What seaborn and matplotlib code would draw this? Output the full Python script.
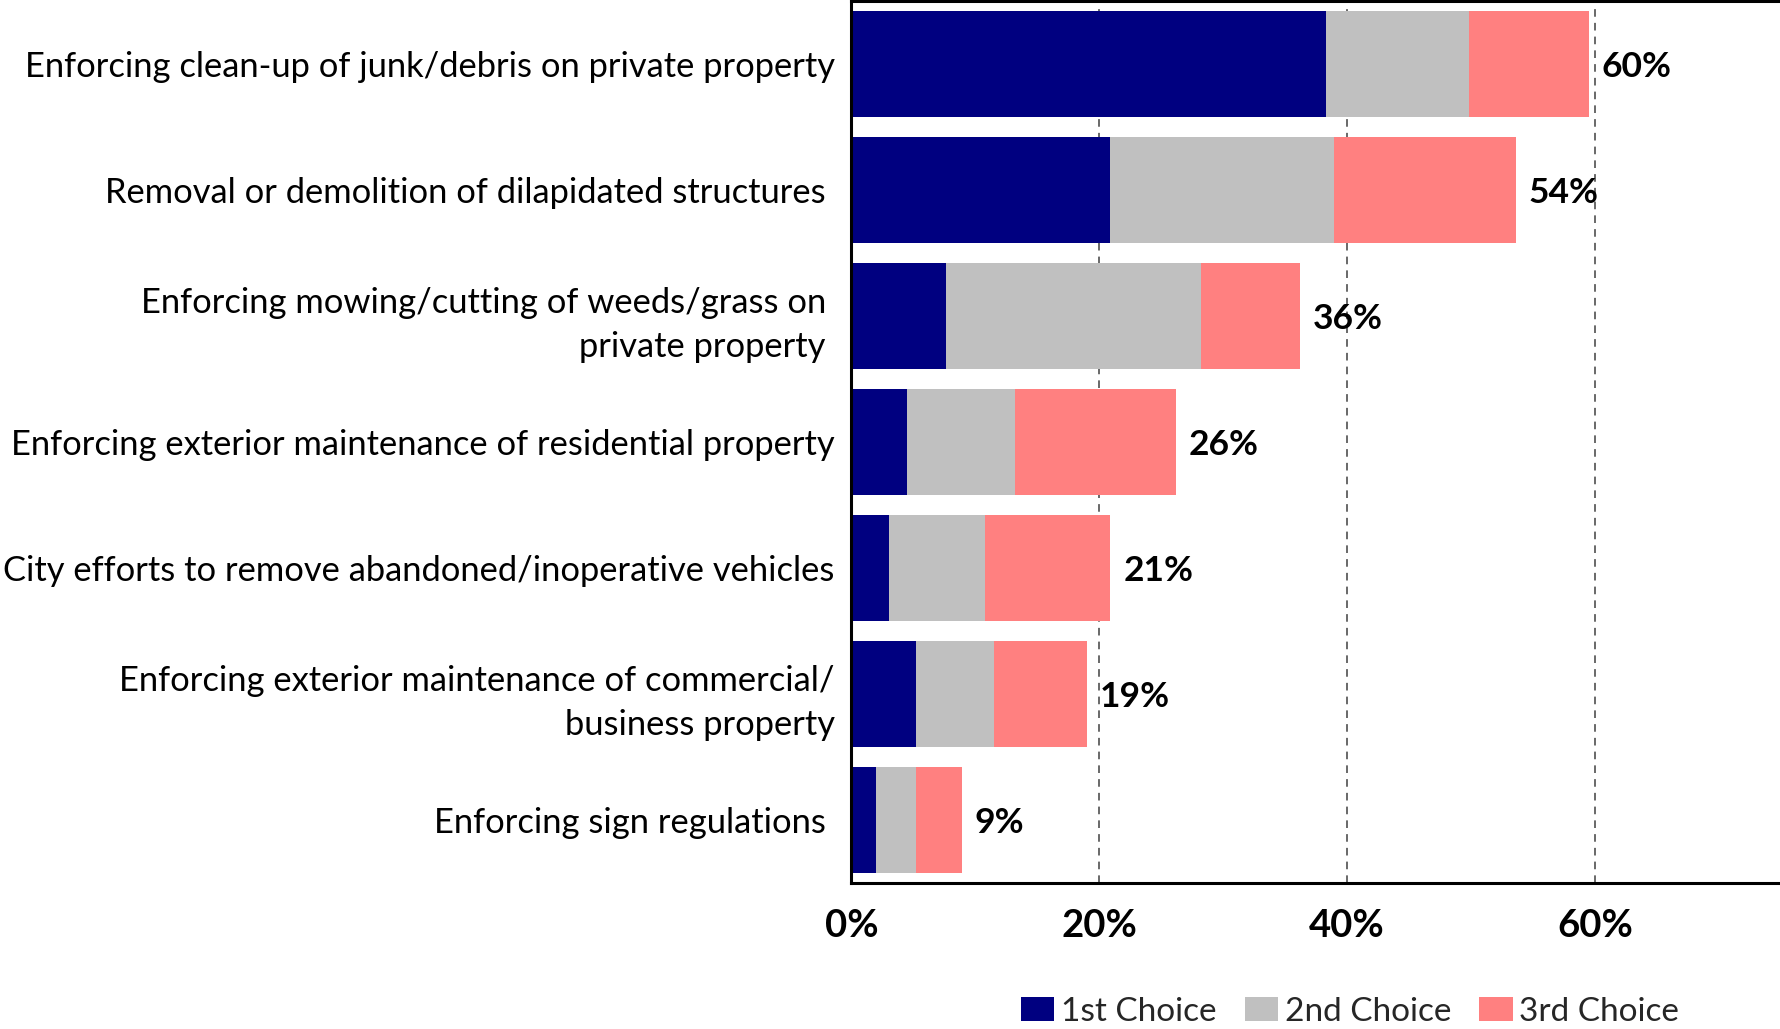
import matplotlib
matplotlib.use("Agg")
import matplotlib.pyplot as plt
from matplotlib.patches import Patch
import numpy as np
import pandas as pd
import seaborn as sns

categories = [
    "Enforcing clean-up of junk/debris on private property",
    "Removal or demolition of dilapidated structures ",
    "Enforcing mowing/cutting of weeds/grass on \nprivate property ",
    "Enforcing exterior maintenance of residential property",
    "City efforts to remove abandoned/inoperative vehicles",
    "Enforcing exterior maintenance of commercial/\nbusiness property",
    "Enforcing sign regulations ",
]
first_choice = [38.3, 20.9, 7.6, 4.5, 3.0, 5.2, 2.0]
second_choice = [11.5, 18.0, 20.6, 8.7, 7.8, 6.3, 3.2]
third_choice = [9.7, 14.7, 8.0, 13.0, 10.1, 7.5, 3.7]
series_names = ["1st Choice", "2nd Choice", "3rd Choice"]
series_colors = ["#000080", "#C0C0C0", "#FF8080"]
x_ticks = [0, 20, 40, 60]

sns.set_theme(style="white")
plt.rcParams["font.family"] = ["Lato", "DejaVu Sans"]

df = pd.DataFrame({
    "category": categories,
    "first": first_choice,
    "second": second_choice,
    "third": third_choice,
})
df["c1"] = df["first"]
df["c2"] = df["first"] + df["second"]
df["c3"] = df["c2"] + df["third"]

fig = plt.figure(figsize=(17.81, 10.29), dpi=100)
ax = fig.add_axes([0.478, 0.142, 0.522, 0.857])

# stacked bars: draw cumulative totals from the outermost segment inward
for col, color in zip(["c3", "c2", "c1"], series_colors[::-1]):
    sns.barplot(data=df, x=col, y="category", orient="h", color=color,
                width=0.84, ax=ax, saturation=1, linewidth=0)

for i, total in enumerate(df["c3"]):
    ax.text(total + 1.05, i, f"{round(total):.0f}%", va="center_baseline", ha="left",
            fontsize=25.5, fontweight="bold", color="black")

ax.set_xlim(0, 75)
ax.set_ylim(6.5, -0.5)
ax.set_xticks(x_ticks)
ax.set_xticklabels([f"{t}%" for t in x_ticks], fontsize=27.5, fontweight="bold")
ax.set_xlabel("")
ax.set_ylabel("")
ax.tick_params(axis="x", length=0, pad=19, colors="black")
ax.tick_params(axis="y", length=0, pad=12, labelsize=24.8, colors="black")
for lbl in ax.get_yticklabels():
    lbl.set_horizontalalignment("right")
    lbl.set_multialignment("right")
    lbl.set_linespacing(1.45)

for x in x_ticks[1:]:
    ax.axvline(x, color="#404040", linestyle=(0, (5, 4)), linewidth=1.1, zorder=0)

for side in ["left", "bottom", "top"]:
    ax.spines[side].set_visible(True)
    ax.spines[side].set_color("black")
    ax.spines[side].set_linewidth(2.2)
ax.spines["right"].set_visible(False)

handles = [Patch(facecolor=c, edgecolor="none") for c in series_colors]
fig.legend(handles, series_names, loc="center", bbox_to_anchor=(0.758, 0.017),
           ncol=3, frameon=False, fontsize=24, handlelength=1.0,
           handleheight=0.75, handletextpad=0.2, columnspacing=0.85)

fig.savefig("out.png", dpi=100)
